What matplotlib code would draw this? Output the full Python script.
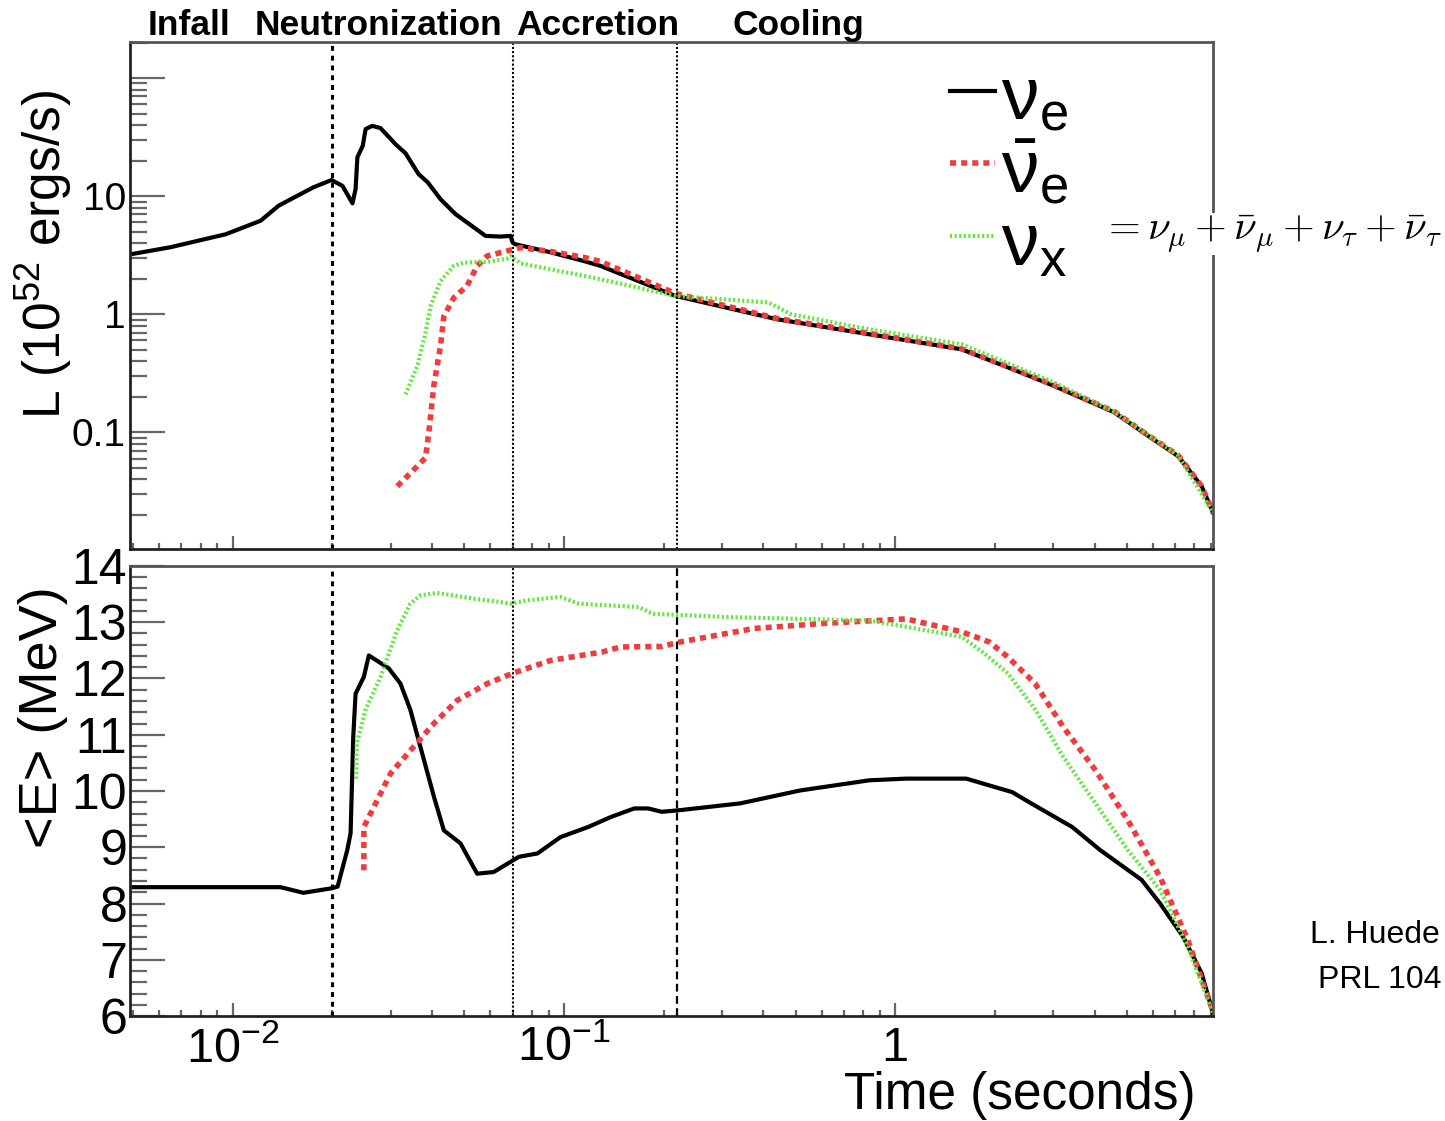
import matplotlib
matplotlib.use('Agg')
import matplotlib.pyplot as plt
from matplotlib.ticker import LogLocator, MultipleLocator, NullFormatter
from matplotlib.lines import Line2D

plt.rcParams['font.family'] = ['Liberation Sans', 'DejaVu Sans']
plt.rcParams['mathtext.fontset'] = 'custom'
plt.rcParams['mathtext.rm'] = 'Liberation Sans'
plt.rcParams['mathtext.it'] = 'Liberation Sans:italic'
plt.rcParams['mathtext.bf'] = 'Liberation Sans:bold'
plt.rcParams['mathtext.sf'] = 'Liberation Sans'

# ---- luminosity (10^52 erg/s) vs time (s) ----
t_L_nue = [0.00492, 0.0065, 0.00953, 0.01215, 0.01376, 0.01496, 0.01754, 0.01989, 0.02147,
           0.0230, 0.0235, 0.0238, 0.0247, 0.0252, 0.0264, 0.02795, 0.0310, 0.03325, 0.0364,
           0.0388, 0.0424, 0.0471, 0.058, 0.0643, 0.069, 0.0700, 0.0712, 0.091, 0.1145, 0.1289,
           0.217, 0.4406, 0.835, 1.587, 2.19, 3.02, 4.58, 5.72, 7.14, 8.41, 9.1]
L_nue = [3.22, 3.7, 4.76, 6.2, 8.3, 9.4, 11.9, 13.7, 12.2,
         8.7, 11.5, 21.4, 26.7, 37.0, 39.4, 37.7, 27.6, 23.1, 15.4,
         13.1, 9.44, 7.04, 4.61, 4.55, 4.61, 4.05, 3.92, 3.35, 2.83, 2.57,
         1.43, 0.907, 0.677, 0.505, 0.355, 0.247, 0.148, 0.096, 0.063, 0.035, 0.021]

t_L_nuebar = [0.03139, 0.0361, 0.0382, 0.0391, 0.0405, 0.0424, 0.0434, 0.0465, 0.051, 0.0547,
              0.0587, 0.0674, 0.0739, 0.0912, 0.1145, 0.1289, 0.217, 0.4406, 0.835, 1.587,
              2.19, 3.02, 4.58, 5.72, 7.14, 8.41, 9.1]
L_nuebar = [0.035, 0.0518, 0.061, 0.1, 0.25, 0.54, 0.96, 1.38, 1.74, 2.57,
            3.12, 3.44, 3.67, 3.4, 3.04, 2.8, 1.5, 0.92, 0.69, 0.51,
            0.36, 0.25, 0.15, 0.097, 0.064, 0.035, 0.021]

t_L_nux = [0.03325, 0.0361, 0.0382, 0.0396, 0.0424, 0.0465, 0.0498, 0.0587, 0.0674, 0.069,
           0.0739, 0.1219, 0.217, 0.4139, 0.4858, 0.835, 1.587, 3.02, 4.58, 7.14, 9.1]
L_nux = [0.21, 0.365, 0.7, 1.18, 1.91, 2.57, 2.74, 2.78, 2.96, 3.12,
         2.7, 2.05, 1.43, 1.26, 1.0, 0.746, 0.557, 0.264, 0.15, 0.064, 0.021]

# ---- mean energy (MeV) vs time (s) ----
t_E_nue = [0.00492, 0.01396, 0.01634, 0.01989, 0.02074, 0.02218, 0.0227, 0.02312, 0.0235,
           0.02489, 0.02577, 0.0296, 0.0321, 0.0344, 0.0405, 0.0434, 0.0487, 0.0547, 0.0614,
           0.0731, 0.0832, 0.0976, 0.1183, 0.1389, 0.163, 0.1795, 0.1975, 0.2245, 0.3406,
           0.5168, 0.835, 1.079, 1.637, 2.254, 2.572, 3.42, 4.154, 5.54, 6.30, 7.39, 8.41, 9.1]
E_nue = [8.29, 8.29, 8.19, 8.27, 8.30, 8.95, 9.25, 10.96, 11.73,
         12.03, 12.41, 12.18, 11.91, 11.44, 9.90, 9.30, 9.07, 8.53, 8.56,
         8.83, 8.89, 9.18, 9.36, 9.54, 9.69, 9.69, 9.63, 9.66, 9.78,
         10.01, 10.19, 10.22, 10.22, 9.98, 9.78, 9.36, 8.95, 8.42, 8.00, 7.41, 6.76, 6.05]

t_E_nuebar = [0.02489, 0.02489, 0.02733, 0.02996, 0.0344, 0.0405, 0.0476, 0.0587, 0.0706,
              0.091, 0.1302, 0.1481, 0.1975, 0.2245, 0.375, 0.6085, 1.079, 1.587, 1.921,
              2.188, 2.644, 3.212, 4.02, 5.035, 6.30, 7.64, 9.1]
E_nuebar = [8.59, 9.36, 9.84, 10.31, 10.72, 11.20, 11.61, 11.91, 12.10,
            12.32, 12.47, 12.56, 12.57, 12.65, 12.89, 12.98, 13.06, 12.83, 12.65,
            12.38, 11.91, 11.14, 10.37, 9.48, 8.47, 7.35, 6.08]

t_E_nux = [0.0236, 0.0237, 0.02518, 0.02795, 0.0296, 0.03139, 0.0344, 0.0369, 0.0414,
           0.0534, 0.0643, 0.069, 0.0774, 0.0976, 0.111, 0.1684, 0.1853, 0.3196, 0.835,
           1.152, 1.587, 1.863, 2.188, 2.652, 3.212, 4.02, 5.035, 6.30, 7.64, 9.1]
E_nux = [10.22, 10.84, 11.44, 12.03, 12.44, 12.86, 13.33, 13.48, 13.52,
         13.42, 13.36, 13.33, 13.39, 13.45, 13.33, 13.27, 13.15, 13.09, 13.03,
         12.89, 12.74, 12.44, 12.09, 11.44, 10.61, 9.78, 8.95, 8.24, 7.23, 6.05]

phase_edges = [0.02, 0.07, 0.22]
phase_names = ['Infall', 'Neutronization', 'Accretion', 'Cooling']
phase_x = [148, 255, 516, 733]   # left edge of each label, in pixels

RED = '#f03c3c'
GREEN = '#5ee83a'
W, H = 1445, 1121

fig = plt.figure(figsize=(W / 100, H / 100), dpi=100)
ax1 = fig.add_axes([130 / W, 1 - 549 / H, (1213 - 130) / W, (549 - 42) / H])
ax2 = fig.add_axes([130 / W, 1 - 1016 / H, (1213 - 130) / W, (1016 - 566) / H])


def draw(ax, t1, y1, t2, y2, t3, y3):
    ax.plot(t1, y1, color='black', lw=3.0, solid_joinstyle='round')
    ax.plot(t2, y2, color=RED, lw=4.0, linestyle=(0, (1.1, 0.9)))
    ax.plot(t3, y3, color=GREEN, lw=3.0, linestyle=(0, (0.5, 0.6)))


draw(ax1, t_L_nue, L_nue, t_L_nuebar, L_nuebar, t_L_nux, L_nux)
draw(ax2, t_E_nue, E_nue, t_E_nuebar, E_nuebar, t_E_nux, E_nux)

# phase boundaries
for ax in (ax1, ax2):
    ax.axvline(phase_edges[0], color='black', lw=2.2, linestyle=(0, (1.6, 1.6)))
    ax.axvline(phase_edges[1], color='black', lw=1.5, linestyle=(0, (1, 1)))
ax1.axvline(phase_edges[2], color='black', lw=1.5, linestyle=(0, (1, 1)))
ax2.axvline(phase_edges[2], color='black', lw=1.6, linestyle=(0, (3.5, 2)))

for ax in (ax1, ax2):
    ax.set_xscale('log')
    ax.set_xlim(0.0049, 9.1)
    for s in ax.spines.values():
        s.set_linewidth(2)
        s.set_color('#222222')
    ax.spines['top'].set_color('#555555')
    ax.spines['right'].set_color('#555555')
    ax.xaxis.set_minor_locator(LogLocator(base=10, subs=range(2, 10), numticks=20))
    ax.xaxis.set_minor_formatter(NullFormatter())
    ax.tick_params(which='both', direction='in', color='#666666', width=1.6,
                   top=False, right=False)
    ax.tick_params(axis='x', which='major', length=9.5)
    ax.tick_params(axis='x', which='minor', length=4.5)
    ax.tick_params(axis='y', which='major', length=25, pad=3)
    ax.tick_params(axis='y', which='minor', length=12.5)

# top panel: luminosity
ax1.set_yscale('log')
ax1.set_ylim(0.0103, 202)
ax1.set_yticks([0.1, 1, 10, 100], labels=['0.1', '1', '10', ''])
ax1.yaxis.set_minor_locator(LogLocator(base=10, subs=range(2, 10), numticks=20))
ax1.yaxis.set_minor_formatter(NullFormatter())
ax1.tick_params(axis='y', labelsize=28)
ax1.set_xticks([0.01, 0.1, 1], labels=['', '', ''])

# bottom panel: mean energy
ax2.set_ylim(6, 14)
ax2.set_yticks(range(6, 15))
ax2.yaxis.set_minor_locator(MultipleLocator(0.2))
ax2.tick_params(axis='y', labelsize=36, pad=2)
ax2.set_xticks([0.01, 0.1, 1], labels=[r'$10^{-2}$', r'$10^{-1}$', '1'])
ax2.tick_params(axis='x', labelsize=35, pad=7)

# axis titles (ROOT style, right aligned)
fig.text(44 / W, 1 - 90 / H, r'L (10$^{52}$ ergs/s)', rotation=90, ha='center', va='top',
         fontsize=37)
fig.text(43 / W, 1 - 586 / H, '<E> (MeV)', rotation=90, ha='center', va='top', fontsize=39)
fig.text(1196 / W, 1 - 1096 / H, 'Time (seconds)', ha='right', va='center', fontsize=37)

# phase names
for name, px in zip(phase_names, phase_x):
    fig.text(px / W, 1 - 35 / H, name, ha='left', va='baseline', fontsize=25.5,
             fontweight='bold')

# legend
handles = [Line2D([], [], color='black', lw=3.0),
           Line2D([], [], color=RED, lw=4.0, linestyle=(0, (1.1, 0.9))),
           Line2D([], [], color=GREEN, lw=3.0, linestyle=(0, (0.5, 0.6)))]
labels = [r'$\mathrm{\nu_e}$', r'$\mathrm{\bar{\nu}_e}$', r'$\mathrm{\nu_x}$']
ax1.legend(handles, labels, loc='upper left', bbox_to_anchor=(950 / W, 1 - 61 / H),
           bbox_transform=fig.transFigure, frameon=False, fontsize=54,
           handlelength=0.6, handleheight=1.0, handletextpad=0.08, borderpad=0,
           borderaxespad=0, labelspacing=-0.02)

fig.text(1101 / W, 1 - 234 / H, r'$=\nu_\mu+\bar{\nu}_\mu+\nu_\tau+\bar{\nu}_\tau$',
         ha='left', va='center', fontsize=29.5, math_fontfamily='cm',
         bbox=dict(facecolor='white', edgecolor='none', pad=0))

# reference note, cropped at the right edge as in the source slide
fig.text(1310 / W, 1 - 935 / H, 'L. Huede', ha='left', va='center', fontsize=23)
fig.text(1318 / W, 1 - 980 / H, 'PRL 104', ha='left', va='center', fontsize=23)

fig.savefig('out.png', dpi=100)
